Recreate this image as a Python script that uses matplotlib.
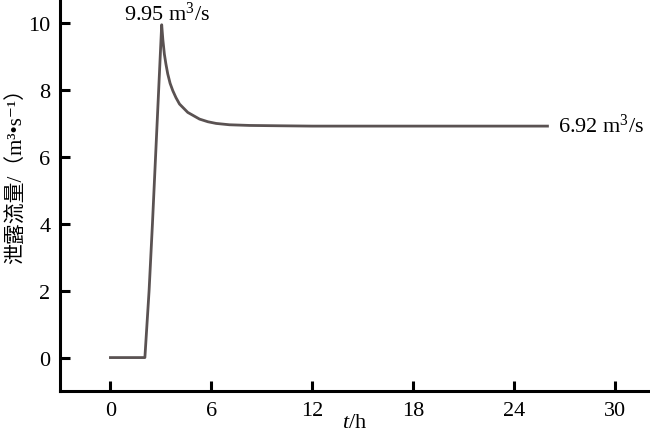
import matplotlib
matplotlib.use("Agg")
import matplotlib.pyplot as plt

plt.rcParams['font.family'] = ['Liberation Serif', 'Noto Sans CJK SC', 'DejaVu Sans']
plt.rcParams['mathtext.fontset'] = 'custom'
plt.rcParams['mathtext.rm'] = 'Liberation Serif'
plt.rcParams['mathtext.it'] = 'Liberation Serif:italic'

t = [0, 2.05, 2.3, 2.5, 3.05, 3.12, 3.21, 3.3, 3.41, 3.55, 3.71, 3.9, 4.11, 4.6, 5.3, 5.8, 6.29, 7.08, 8.27, 10.0, 12.0, 15, 20, 26]
q = [0, 0, 2.0, 4.0, 9.95, 9.5, 9.07, 8.78, 8.48, 8.2, 7.98, 7.77, 7.58, 7.33, 7.13, 7.05, 7.0, 6.96, 6.94, 6.93, 6.92, 6.92, 6.92, 6.92]

xticks = [0, 6, 12, 18, 24, 30]
yticks = [0, 2, 4, 6, 8, 10]

fig = plt.figure(figsize=(6.5, 4.39), dpi=100)
ax = fig.add_axes([0.0923, 0.107, 0.9077, 0.893])
ax.plot(t, q, color='#5a5252', lw=2.0, solid_joinstyle='round')
ax.set_xlim(-3, 32.1)
ax.set_ylim(-1, 10.72)
ax.set_xticks(xticks)
ax.set_yticks(yticks)
ax.spines['top'].set_visible(False)
ax.spines['right'].set_visible(False)
for s in ['left', 'bottom']:
    ax.spines[s].set_linewidth(2.2)
ax.tick_params(direction='in', length=7, width=2.2, labelsize=16, pad=7)
ax.set_xlabel(r'$\mathit{t}$/h', fontsize=16, labelpad=-5)
ax.set_ylabel('泄露流量/（m³•s⁻¹）', fontsize=15)
ax.yaxis.set_label_coords(-0.056, 0.565)
ax.text(3.4, 10.3, r'9.95 m$^3$/s', fontsize=16, ha='center', va='center')
ax.text(26.65, 6.95, r'6.92 m$^3$/s', fontsize=16, ha='left', va='center')
fig.savefig('out.png', dpi=100)
